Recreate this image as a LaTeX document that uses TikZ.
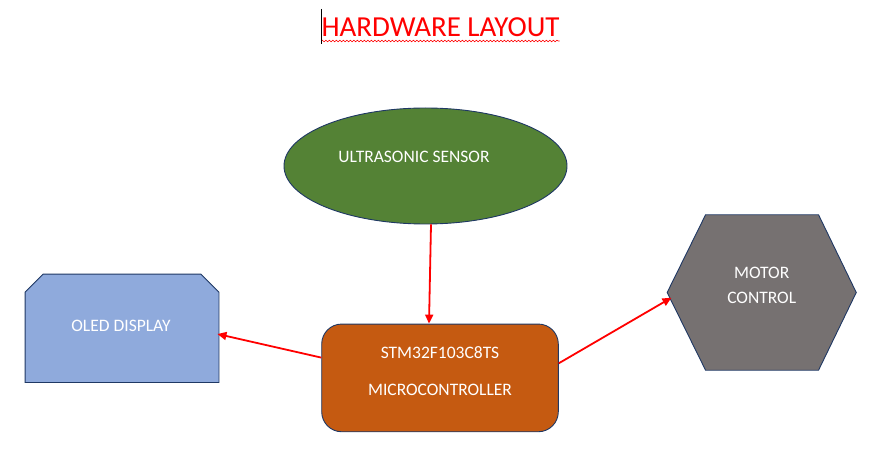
\documentclass[tikz,border=0pt]{standalone}
\usepackage{fontspec}
\setmainfont{Carlito}
\usetikzlibrary{shapes.geometric,shapes.misc,arrows.meta,decorations.pathmorphing}
\definecolor{sensorgreen}{HTML}{548235}
\definecolor{oledblue}{HTML}{8FAADC}
\definecolor{mcuorange}{HTML}{C55A11}
\definecolor{motorgray}{HTML}{767171}
\definecolor{edgenavy}{HTML}{1F3864}
\definecolor{arrowred}{HTML}{FF0000}
\begin{document}
\begin{tikzpicture}[x=1pt,y=-1pt,
  shapebox/.style={draw=edgenavy,line width=0.9pt,inner sep=0pt},
  lbl/.style={text=white,font=\fontsize{17.5}{20}\selectfont,inner sep=0pt,anchor=base},
  link/.style={draw=arrowred,line width=1.8pt,-{Triangle[length=9pt,width=8pt]}}]
\useasboundingbox (0,0) rectangle (869,470);
% title
\node[text=arrowred,font=\fontsize{29}{33}\selectfont,inner sep=0pt,anchor=base] (title) at (440.5,37) {HARDWARE LAYOUT};
\draw[arrowred,line width=0.6pt,decorate,decoration={snake,amplitude=0.8pt,segment length=3.5pt}] ([yshift=-4pt]title.base west) -- ([yshift=-4pt]title.base east);
\draw[black,line width=0.8pt] (321,9) -- (321,44);
% shapes
\node[shapebox,ellipse,fill=sensorgreen,minimum width=283pt,minimum height=116pt] (us) at (425.5,166) {};
\node[lbl] (ustxt) at (414,162.5) {ULTRASONIC SENSOR};
\node[draw=none,inner sep=0pt,minimum width=193.5pt,minimum height=108pt] (oled) at (122,328.3) {};
\draw[shapebox,fill=oledblue] (oled.south west) -- ([yshift=-18pt]oled.north west) -- ([xshift=18pt]oled.north west) -- ([xshift=-18pt]oled.north east) -- ([yshift=-18pt]oled.north east) -- (oled.south east) -- cycle;
\node[lbl] (oledtxt) at (121,331.5) {OLED DISPLAY};
\node[shapebox,rounded corners=20pt,rectangle,fill=mcuorange,minimum width=236.6pt,minimum height=107.7pt] (mcu) at (440,377.9) {};
\node[lbl] (mcutxta) at (440,358.2) {STM32F103C8TS};
\node[lbl] (mcutxtb) at (440,395.5) {MICROCONTROLLER};
\node[draw=none,inner sep=0pt,minimum width=188.7pt,minimum height=155pt] (hex) at (761.7,292.5) {};
\draw[shapebox,fill=motorgray] (hex.west) -- ([xshift=38.4pt]hex.north west) -- ([xshift=-37.7pt]hex.north east) -- (hex.east) -- ([xshift=-37.7pt]hex.south east) -- ([xshift=38.4pt]hex.south west) -- cycle;
\node[lbl] (hextxta) at (761.7,278.5) {MOTOR};
\node[lbl] (hextxtb) at (761.7,303.5) {CONTROL};
% connectors
\draw[link] ([xshift=5.5pt]us.south) -- ([xshift=-11pt]mcu.north);
\draw[link] ([yshift=20.3pt]mcu.west) -- ([xshift=-1.5pt,yshift=-5.7pt]oled.east);
\draw[link] ([yshift=14.6pt]mcu.east) -- ([xshift=4.3pt,yshift=-5.2pt]hex.west);
\end{tikzpicture}
\end{document}
